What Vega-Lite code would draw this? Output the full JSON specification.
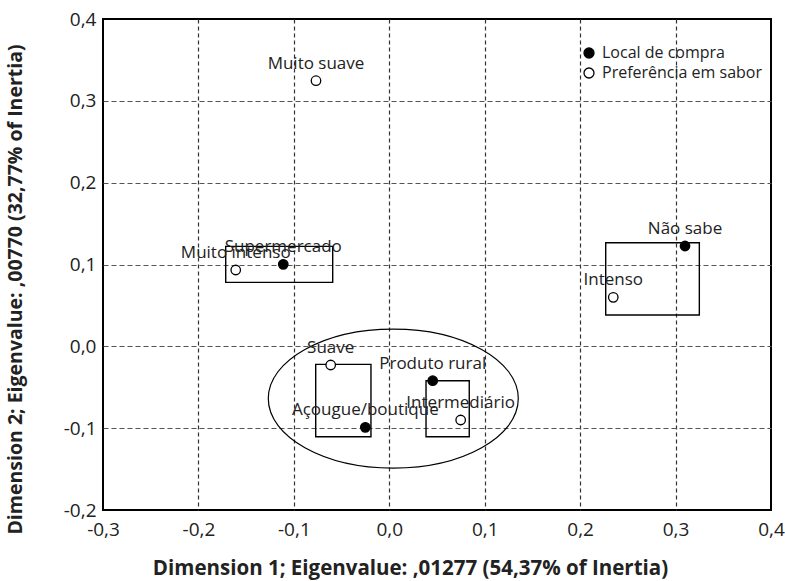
{
  "$schema": "https://vega.github.io/schema/vega-lite/v6.json",
  "width": 668,
  "height": 491,
  "autosize": {"type": "none"},
  "padding": {"left": 103, "top": 19, "right": 14, "bottom": 71},
  "background": "white",
  "config": {
    "font": "Open Sans",
    "view": {"stroke": "black", "strokeWidth": 2},
    "axis": {
      "labelFont": "Open Sans",
      "labelFontSize": 19,
      "labelColor": "#222",
      "titleFont": "Open Sans",
      "titleFontSize": 20,
      "titleFontWeight": "bold",
      "titleColor": "#222",
      "ticks": false,
      "domain": false,
      "grid": true,
      "gridWidth": 1.2
    }
  },
  "datasets": {
    "pontos": [
      {"nome": "Muito suave", "grupo": "Preferência em sabor", "d1": -0.0768, "d2": 0.3246},
      {"nome": "Muito intenso", "grupo": "Preferência em sabor", "d1": -0.1609, "d2": 0.0933},
      {"nome": "Supermercado", "grupo": "Local de compra", "d1": -0.1111, "d2": 0.1002},
      {"nome": "Não sabe", "grupo": "Local de compra", "d1": 0.3099, "d2": 0.1226},
      {"nome": "Intenso", "grupo": "Preferência em sabor", "d1": 0.2347, "d2": 0.0599},
      {"nome": "Suave", "grupo": "Preferência em sabor", "d1": -0.0614, "d2": -0.0228},
      {"nome": "Produto rural", "grupo": "Local de compra", "d1": 0.0455, "d2": -0.042},
      {"nome": "Açougue/boutique", "grupo": "Local de compra", "d1": -0.0251, "d2": -0.099},
      {"nome": "Intermediário", "grupo": "Preferência em sabor", "d1": 0.0748, "d2": -0.09}
    ],
    "caixas": [
      {"x1": -0.1714, "x2": -0.0593, "y1": 0.1222, "y2": 0.0782},
      {"x1": 0.2268, "x2": 0.3249, "y1": 0.1266, "y2": 0.0383},
      {"x1": -0.0771, "x2": -0.0192, "y1": -0.022, "y2": -0.1104},
      {"x1": 0.0385, "x2": 0.0838, "y1": -0.042, "y2": -0.1104}
    ],
    "elipse": [
      {"cx": 0.0042, "cy": -0.0638}
    ]
  },
  "encoding": {
    "x": {
      "type": "quantitative",
      "scale": {"domain": [-0.3, 0.4], "nice": false, "zero": false},
      "axis": {
        "title": "Dimension 1; Eigenvalue: ,01277 (54,37% of Inertia)",
        "values": [-0.3, -0.2, -0.1, 0, 0.1, 0.2, 0.3, 0.4],
        "labelExpr": "replace(replace(format(datum.value, '.1f'), '.', ','), '\u2212', '-')",
        "labelPadding": 10,
        "labelFlush": false,
        "titleFontSize": 20.5,
        "titleX": 307,
        "titleY": 58,
        "titleAlign": "center",
        "titleBaseline": "middle",
        "gridDash": [4, 3],
        "gridColor": "#333",
        "gridOpacity": {"condition": {"test": "abs(datum.value + 0.3) < 0.001 || abs(datum.value - 0.4) < 0.001", "value": 0}, "value": 1}
      }
    },
    "y": {
      "type": "quantitative",
      "scale": {"domain": [-0.2, 0.4], "nice": false, "zero": false},
      "axis": {
        "title": "Dimension 2; Eigenvalue: ,00770 (32,77% of Inertia)",
        "values": [-0.2, -0.1, 0, 0.1, 0.2, 0.3, 0.4],
        "labelExpr": "replace(replace(format(datum.value, '.1f'), '.', ','), '\u2212', '-')",
        "labelPadding": 7,
        "labelFlush": false,
        "titleFontSize": 19.5,
        "titleX": -88,
        "titleY": 270,
        "titleAlign": "center",
        "titleBaseline": "middle",
        "titleAngle": -90,
        "gridDash": [5, 3],
        "gridColor": "#555",
        "gridOpacity": {"condition": {"test": "abs(datum.value + 0.2) < 0.001 || abs(datum.value - 0.4) < 0.001", "value": 0}, "value": 1}
      }
    }
  },
  "layer": [
    {
      "data": {"name": "caixas"},
      "mark": {"type": "rect", "fill": null, "fillOpacity": 0, "stroke": "black", "strokeWidth": 1.4},
      "encoding": {
        "x": {"field": "x1", "type": "quantitative"},
        "x2": {"field": "x2"},
        "y": {"field": "y1", "type": "quantitative"},
        "y2": {"field": "y2"}
      }
    },
    {
      "data": {"name": "elipse"},
      "mark": {
        "type": "point",
        "shape": "M -1 0 C -1 -0.307 -0.5523 -0.556 0 -0.556 C 0.5523 -0.556 1 -0.307 1 0 C 1 0.307 0.5523 0.556 0 0.556 C -0.5523 0.556 -1 0.307 -1 0 Z",
        "size": 62500,
        "filled": false,
        "stroke": "black",
        "strokeWidth": 1.2,
        "opacity": 1
      },
      "encoding": {
        "x": {"field": "cx", "type": "quantitative"},
        "y": {"field": "cy", "type": "quantitative"}
      }
    },
    {
      "data": {"name": "pontos"},
      "mark": {"type": "text", "font": "Open Sans", "fontSize": 17, "align": "center", "baseline": "alphabetic", "dy": -12, "color": "#222"},
      "encoding": {
        "x": {"field": "d1", "type": "quantitative"},
        "y": {"field": "d2", "type": "quantitative"},
        "text": {"field": "nome"}
      }
    },
    {
      "data": {"name": "pontos"},
      "mark": {"type": "point", "shape": "circle", "size": 90, "stroke": "black", "strokeWidth": 1.3, "opacity": 1},
      "encoding": {
        "x": {"field": "d1", "type": "quantitative"},
        "y": {"field": "d2", "type": "quantitative"},
        "fill": {
          "field": "grupo",
          "type": "nominal",
          "scale": {"domain": ["Local de compra", "Preferência em sabor"], "range": ["black", "white"]},
          "legend": {
            "title": null,
            "orient": "none",
            "legendX": 478,
            "legendY": 26,
            "labelFont": "Open Sans",
            "labelFontSize": 16,
            "labelColor": "#222",
            "labelLimit": 0,
            "labelOffset": 5,
            "rowPadding": 4,
            "symbolType": "circle",
            "symbolSize": 100,
            "symbolStrokeColor": "black",
            "symbolStrokeWidth": 1.3,
            "padding": 0
          }
        }
      }
    }
  ]
}
